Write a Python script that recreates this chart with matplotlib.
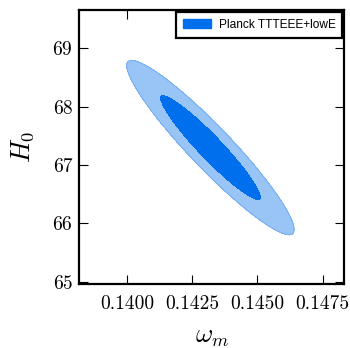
import numpy as np
import matplotlib
matplotlib.use('Agg')
import matplotlib.pyplot as plt
from matplotlib.patches import Patch

plt.rcParams['mathtext.fontset'] = 'cm'
plt.rcParams['font.family'] = 'serif'
plt.rcParams['font.serif'] = ['cmr10']
plt.rcParams['axes.formatter.use_mathtext'] = True

# Gaussian approximation of the Planck TTTEEE+lowE posterior in (omega_m, H0)
mean_omega_m = 0.1432
mean_h0 = 67.30
sigma_omega_m = 0.00129
sigma_h0 = 0.602
corr = -0.94

# delta chi^2 for the 68% and 95% regions of a 2D Gaussian
chi2_levels = [0.0, 2.30, 6.17]

x_ticks = [0.1400, 0.1425, 0.1450, 0.1475]
x_ticklabels = ['0.1400', '0.1425', '0.1450', '0.1475']
y_ticks = [65, 66, 67, 68, 69]
y_ticklabels = ['65', '66', '67', '68', '69']
x_lim = (0.13818, 0.14833)
y_lim = (64.96, 69.66)

label = 'Planck TTTEEE+lowE'
dark_blue = '#006FED'
light_blue = '#99C4F6'

cov = np.array([[sigma_omega_m**2, corr * sigma_omega_m * sigma_h0],
                [corr * sigma_omega_m * sigma_h0, sigma_h0**2]])
icov = np.linalg.inv(cov)

xs = np.linspace(x_lim[0], x_lim[1], 600)
ys = np.linspace(y_lim[0], y_lim[1], 600)
X, Y = np.meshgrid(xs, ys)
dx = X - mean_omega_m
dy = Y - mean_h0
chi2 = icov[0, 0] * dx**2 + 2 * icov[0, 1] * dx * dy + icov[1, 1] * dy**2

fig = plt.figure(figsize=(3.5, 3.48), dpi=100)
ax = fig.add_axes([0.2266, 0.1839, 0.7574, 0.7874])

ax.contourf(X, Y, chi2, levels=chi2_levels, colors=[dark_blue, light_blue])
ax.contour(X, Y, chi2, levels=[chi2_levels[2]], colors=['#74AEF2'], linewidths=0.7)

ax.set_xlim(*x_lim)
ax.set_ylim(*y_lim)
ax.set_xticks(x_ticks)
ax.set_xticklabels(x_ticklabels)
ax.set_yticks(y_ticks)
ax.set_yticklabels(y_ticklabels)
ax.tick_params(direction='in', length=6.5, width=0.8, top=True, right=True,
               labelsize=14, pad=8)
ax.tick_params(axis='y', pad=5)
for sp in ax.spines.values():
    sp.set_linewidth(1.6)

ax.set_xlabel(r'$\omega_m$', fontsize=19, labelpad=8.5)
ax.set_ylabel(r'$H_0$', fontsize=19, labelpad=12)

leg = ax.legend(handles=[Patch(facecolor=dark_blue, edgecolor=dark_blue, label=label)],
                loc='upper right', fancybox=False, framealpha=1, borderaxespad=0.2,
                prop={'family': 'Liberation Sans', 'size': 8.6}, handlelength=2.4,
                handleheight=0.75, borderpad=0.55, handletextpad=0.6)
leg.get_frame().set_edgecolor('black')
leg.get_frame().set_linewidth(1.6)

fig.savefig('out.png', dpi=100)
